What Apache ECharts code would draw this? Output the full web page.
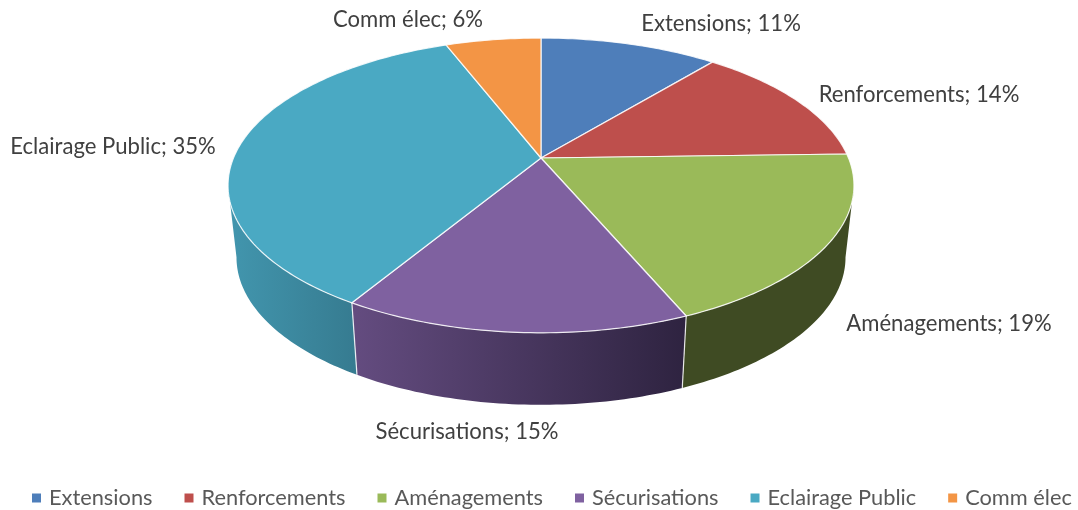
<!DOCTYPE html>
<html>
<head>
<meta charset="utf-8">
<style>html,body{margin:0;padding:0;background:#fff}#c{width:1078px;height:510px}</style>
<script src="https://cdn.jsdelivr.net/npm/echarts@6/dist/echarts.min.js"></script>
</head>
<body>
<div id="c"></div>
<script>
const categories = ['Extensions', 'Renforcements', 'Aménagements', 'Sécurisations', 'Eclairage Public', 'Comm élec'];
const values = [11.0, 13.55, 19.05, 15.05, 35.45, 5.9];
const topColors = ['#4E7EBA', '#BE4F4C', '#9ABA59', '#7F61A0', '#4AA9C3', '#F39545'];
const wallLeft = ['#2F4D71', '#73302E', '#3F4B23', '#644C80', '#4296AE', '#94592A'];
const wallRight = ['#2F4D71', '#73302E', '#3F4B23', '#2E2340', '#367B90', '#94592A'];
const labelCenters = [[721, 24], [919, 95], [949, 324], [467, 432], [113, 147], [408, 20]];

const FONT = 'Lato, "Open Sans", sans-serif';
const APEX = [541, 158], RX = 307.5, A = 112.9, K = -0.186;
const DEPTH_SCALE = 0.973, DEPTH_SHIFT = 72;
const FRONT_FROM = 100.7, FRONT_TO = 259.3;
const DEG = Math.PI / 180;
const total = values.reduce((a, b) => a + b, 0);

function rim(deg) {
  const u = Math.sin(deg * DEG), v = -Math.cos(deg * DEG), w = 1 + K * v;
  return [APEX[0] + RX * u / w, (A * v + APEX[1]) / w];
}
function lower(p) {
  return [APEX[0] + (p[0] - APEX[0]) * DEPTH_SCALE, p[1] + DEPTH_SHIFT];
}
function arc(a0, a1) {
  const n = Math.max(2, Math.ceil(Math.abs(a1 - a0))), pts = [];
  for (let i = 0; i <= n; i++) pts.push(rim(a0 + (a1 - a0) * i / n));
  return pts;
}
function renderSlice(idx) {
  return function () {
    let before = 0;
    for (let i = 0; i < idx; i++) before += values[i];
    const a0 = before / total * 360, a1 = (before + values[idx]) / total * 360;
    const children = [];
    if (a1 > FRONT_FROM && a0 < FRONT_TO) {
      const upper = arc(Math.max(a0, FRONT_FROM), Math.min(a1, FRONT_TO));
      const wall = upper.concat(upper.map(lower).reverse());
      children.push({
        type: 'polygon', z2: 1, shape: { points: wall },
        style: {
          fill: new echarts.graphic.LinearGradient(0, 0, 1, 0, [
            { offset: 0, color: wallLeft[idx] }, { offset: 1, color: wallRight[idx] }
          ]),
          stroke: null
        }
      });
      if (a0 > FRONT_FROM) {
        const p = rim(a0), q = lower(p);
        children.push({
          type: 'line', z2: 2,
          shape: { x1: p[0], y1: p[1], x2: q[0], y2: q[1] },
          style: { stroke: '#fff', lineWidth: 1.2, opacity: 0.85 }
        });
      }
    }
    children.push({
      type: 'polygon', z2: 10, shape: { points: [APEX].concat(arc(a0, a1)) },
      style: { fill: topColors[idx], stroke: '#fff', lineWidth: 1.2, strokeOpacity: 0.85, lineJoin: 'round' }
    });
    children.push({
      type: 'text', z2: 20,
      x: labelCenters[idx][0], y: labelCenters[idx][1],
      style: {
        text: categories[idx] + '; ' + Math.round(values[idx]) + '%',
        fill: '#404040', font: '22.1px ' + FONT, align: 'center', verticalAlign: 'middle'
      }
    });
    return { type: 'group', children };
  };
}

const chart = echarts.init(document.getElementById('c'), null, { renderer: 'canvas' });
chart.setOption({
  animation: false,
  backgroundColor: '#fff',
  legend: {
    left: 32, top: 487, icon: 'rect', itemWidth: 9, itemHeight: 9, itemGap: 32, selectedMode: false,
    textStyle: { color: '#595959', fontSize: 21.8, fontFamily: FONT, padding: [0, 0, 0, 3] },
    padding: 0,
    data: categories
  },
  series: categories.map((name, i) => ({
    type: 'custom', name, coordinateSystem: 'none', silent: true,
    itemStyle: { color: topColors[i] },
    data: [[values[i]]],
    renderItem: renderSlice(i)
  }))
});
</script>
</body>
</html>
